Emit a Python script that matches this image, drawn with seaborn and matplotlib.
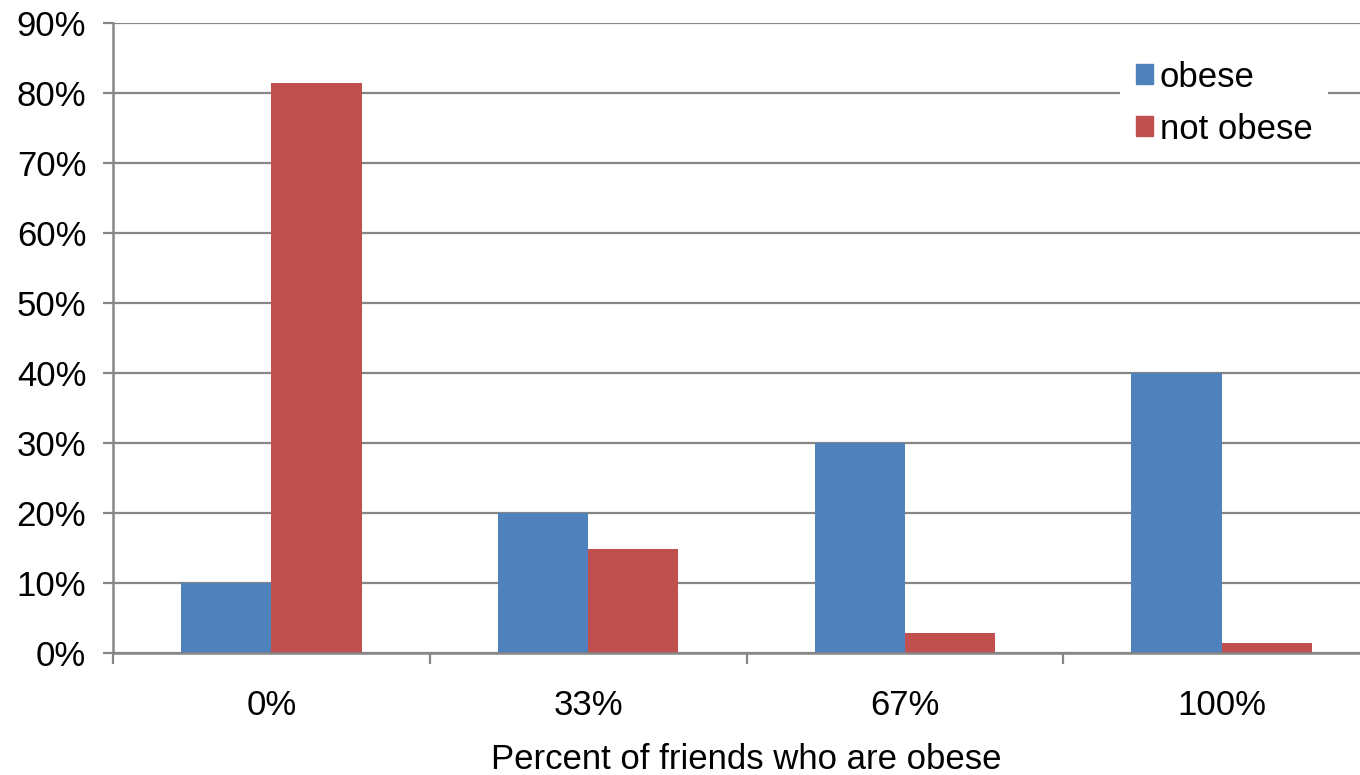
import matplotlib
matplotlib.use("Agg")
import matplotlib.pyplot as plt
import seaborn as sns
import pandas as pd
from matplotlib.ticker import FuncFormatter, FixedLocator
from matplotlib.patches import Patch

categories = ["0%", "33%", "67%", "100%"]
obese = [10.0, 20.0, 30.0, 40.0]
not_obese = [81.4, 14.8, 2.9, 1.4]
series_names = ["obese", "not obese"]
colors = ["#4F81BD", "#C0504D"]

df = pd.DataFrame({
    "cat": categories * 2,
    "val": obese + not_obese,
    "series": [series_names[0]] * 4 + [series_names[1]] * 4,
})

sns.set_style("white")
plt.rcParams["font.family"] = ["Liberation Sans", "DejaVu Sans"]
plt.rcParams["text.color"] = "black"
plt.rcParams["xtick.color"] = "black"
plt.rcParams["ytick.color"] = "black"
plt.rcParams["axes.labelcolor"] = "black"

W, H = 1360, 775
fig = plt.figure(figsize=(W / 100, H / 100), dpi=100)
ax = fig.add_axes([113 / W, (H - 653) / H, (1380 - 113) / W, (653 - 23) / H])

sns.barplot(data=df, x="cat", y="val", hue="series", palette=colors,
            width=0.57, gap=0, ax=ax, legend=False, saturation=1,
            linewidth=0)
for p in ax.patches:
    p.set_edgecolor(p.get_facecolor())

grid_c = "#868686"
ax.set_ylim(0, 90)
ax.set_xlim(-0.5, 3.5)
ax.yaxis.set_major_locator(FixedLocator(range(0, 91, 10)))
ax.yaxis.set_major_formatter(FuncFormatter(lambda v, p: f"{int(round(v))}%"))
ax.grid(axis="y", color=grid_c, linewidth=1.6)
ax.set_axisbelow(True)
for s in ["top", "right"]:
    ax.spines[s].set_visible(False)
for s in ["left", "bottom"]:
    ax.spines[s].set_color(grid_c)
    ax.spines[s].set_linewidth(1.8)

ax.tick_params(axis="y", length=7.2, width=1.6, color=grid_c, labelcolor="black",
               labelsize=25, pad=12, left=True)
ax.set_xticks([0, 1, 2, 3])
ax.set_xticklabels(categories)
ax.tick_params(axis="x", length=0, labelsize=25, pad=26, labelcolor="black")
ax.set_xticks([0.5, 1.5, 2.5, -0.5], minor=True)
ax.tick_params(axis="x", which="minor", length=8, width=1.6, color=grid_c, bottom=True)

ax.set_xlabel("Percent of friends who are obese", fontsize=25, labelpad=15, color="black")
ax.set_ylabel("")

handles = [Patch(facecolor=c, edgecolor=c) for c in colors]
leg = fig.legend(handles, series_names, loc="upper left",
                 bbox_to_anchor=(1120 / W, 1 - 45 / H), fontsize=25,
                 frameon=True, fancybox=False, framealpha=1,
                 handlelength=0.5, handleheight=0.5, handletextpad=0.2,
                 labelspacing=0.55, borderpad=0.45, borderaxespad=0)
leg.get_frame().set_facecolor("white")
leg.get_frame().set_edgecolor("white")
leg.get_frame().set_linewidth(0)
for t in leg.get_texts():
    t.set_color("black")

fig.savefig("out.png", dpi=100)
